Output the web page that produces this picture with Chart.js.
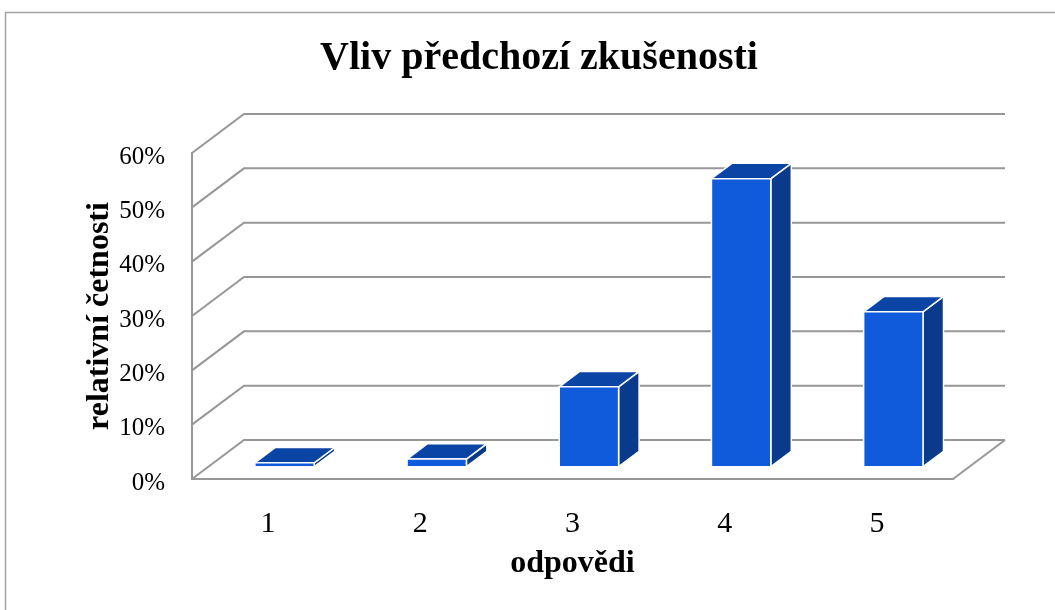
<!DOCTYPE html>
<html>
<head>
<meta charset="utf-8">
<script src="https://cdn.jsdelivr.net/npm/chart.js@4/dist/chart.umd.min.js"></script>
<style>
html,body{margin:0;padding:0;background:#ffffff;}
#wrap{position:relative;width:1055px;height:610px;}
</style>
</head>
<body>
<div id="wrap"><canvas id="c" width="1055" height="610"></canvas></div>
<script>
// ---- data ----
const categories = ['1', '2', '3', '4', '5'];
const values = [0.7, 1.4, 14.7, 53, 28.5];   // relativní četnosti (%)
const yTickValues = [0, 10, 20, 30, 40, 50, 60];
const chartTitle = 'Vliv předchozí zkušenosti';
const xAxisTitle = 'odpovědi';
const yAxisTitle = 'relativní četnosti';

// ---- style ----
const SERIF = "'Liberation Serif', 'Times New Roman', serif";
const GRID = '#979797';
const DEPTH = {x: 52, y: -39};      // full depth of 3D floor/wall
const BAR_FRONT = 0.316, BAR_BACK = 0.71, BAR_W = 0.39;
const C_FRONT = '#0F5BDB', C_TOP = '#0A45A6', C_SIDE = '#0A3A8C';

const framePlugin = {
  id: 'frame',
  beforeDraw(chart) {
    const ctx = chart.ctx;
    ctx.save();
    ctx.fillStyle = '#ffffff';
    ctx.fillRect(0, 0, chart.width, chart.height);
    ctx.strokeStyle = '#a3a3a3';
    ctx.lineWidth = 1.5;
    ctx.beginPath();
    ctx.moveTo(5.5, chart.height);
    ctx.lineTo(5.5, 12.5);
    ctx.lineTo(chart.width, 12.5);
    ctx.stroke();
    ctx.restore();
  }
};

const wallsPlugin = {
  id: 'walls3d',
  beforeDatasetsDraw(chart) {
    const ctx = chart.ctx, ys = chart.scales.y, ca = chart.chartArea;
    ctx.save();
    ctx.strokeStyle = GRID;
    ctx.lineWidth = 2;
    ctx.lineCap = 'butt';
    yTickValues.forEach(v => {
      const y = ys.getPixelForValue(v);
      ctx.beginPath();
      ctx.moveTo(ca.left, y);
      ctx.lineTo(ca.left + DEPTH.x, y + DEPTH.y);
      ctx.lineTo(ca.right + DEPTH.x, y + DEPTH.y);
      ctx.stroke();
    });
    const y0 = ys.getPixelForValue(0);
    ctx.beginPath();
    ctx.moveTo(ca.right, y0);
    ctx.lineTo(ca.right + DEPTH.x, y0 + DEPTH.y);
    ctx.stroke();
    ctx.restore();
  },
  afterDatasetsDraw(chart) {
    const ctx = chart.ctx, ys = chart.scales.y, xs = chart.scales.x;
    const meta = chart.getDatasetMeta(0);
    const catW = (xs.right - xs.left) / categories.length;
    const w = catW * BAR_W;
    const fx = BAR_FRONT * DEPTH.x, fy = BAR_FRONT * DEPTH.y;
    const dx = (BAR_BACK - BAR_FRONT) * DEPTH.x, dy = (BAR_BACK - BAR_FRONT) * DEPTH.y;
    ctx.save();
    ctx.strokeStyle = '#ffffff';
    ctx.lineWidth = 1.5;
    ctx.lineJoin = 'miter';
    meta.data.forEach((el, i) => {
      const v = values[i];
      const cx = el.x + fx;
      const L = cx - w / 2, R = cx + w / 2;
      const B = ys.getPixelForValue(0) + fy;
      const T = ys.getPixelForValue(v) + fy;
      const poly = (pts, fill) => {
        ctx.beginPath();
        ctx.moveTo(pts[0][0], pts[0][1]);
        for (let k = 1; k < pts.length; k++) ctx.lineTo(pts[k][0], pts[k][1]);
        ctx.closePath();
        ctx.fillStyle = fill;
        ctx.fill();
        ctx.stroke();
      };
      // side
      poly([[R, B], [R + dx, B + dy], [R + dx, T + dy], [R, T]], C_SIDE);
      // top
      poly([[L, T], [R, T], [R + dx, T + dy], [L + dx, T + dy]], C_TOP);
      // front
      poly([[L, B], [R, B], [R, T], [L, T]], C_FRONT);
    });
    ctx.restore();
  }
};

new Chart(document.getElementById('c'), {
  type: 'bar',
  data: {
    labels: categories,
    datasets: [{
      label: yAxisTitle,
      data: values,
      backgroundColor: 'rgba(0,0,0,0)',
      borderWidth: 0
    }]
  },
  options: {
    responsive: false,
    animation: false,
    devicePixelRatio: 1,
    layout: {padding: {left: 23, right: 0, top: 0, bottom: 0}},
    plugins: {
      legend: {display: false},
      tooltip: {enabled: false},
      title: {
        display: true,
        text: chartTitle,
        color: '#000000',
        font: {family: SERIF, size: 40, weight: 'bold', lineHeight: 1.2},
        padding: {top: 35, bottom: 70}
      }
    },
    scales: {
      x: {
        offset: true,
        grid: {display: false},
        border: {display: true, color: GRID, width: 2},
        ticks: {color: '#000000', font: {family: SERIF, size: 30}, padding: 19, maxRotation: 0},
        title: {display: true, text: xAxisTitle, color: '#000000',
                font: {family: SERIF, size: 32, weight: 'bold', lineHeight: 1.2},
                padding: {top: 0, bottom: 27}},
        afterFit(s) { s.height = 131; }
      },
      y: {
        min: 0, max: 60,
        afterBuildTicks(s) { s.ticks = yTickValues.map(v => ({value: v})); },
        grid: {display: false},
        border: {display: true, color: GRID, width: 2},
        ticks: {color: '#000000', font: {family: SERIF, size: 25}, padding: 19, labelOffset: 4,
                callback: v => v + '%'},
        title: {display: true, text: yAxisTitle, color: '#000000',
                font: {family: SERIF, size: 32, weight: 'bold', lineHeight: 1.2},
                padding: {top: 58, bottom: 0}},
        afterFit(s) { s.width = 169; }
      },
      y2: {
        position: 'right',
        display: true,
        grid: {display: false},
        border: {display: false},
        ticks: {display: false},
        afterFit(s) { s.width = 102; }
      }
    }
  },
  plugins: [framePlugin, wallsPlugin]
});
</script>
</body>
</html>
